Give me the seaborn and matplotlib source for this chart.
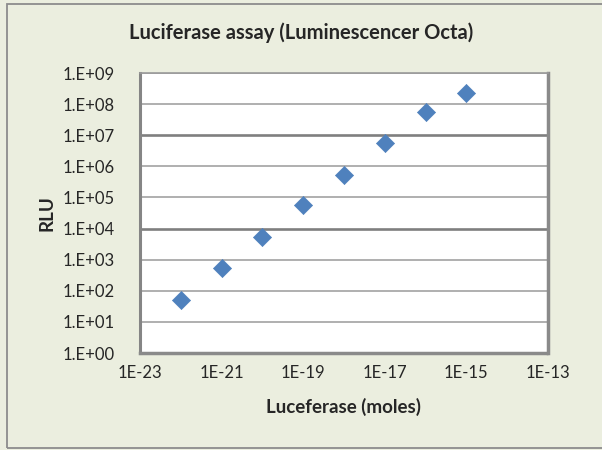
import math
import matplotlib
matplotlib.use("Agg")
import matplotlib.pyplot as plt
import matplotlib.ticker as mticker
from matplotlib.patches import Rectangle
import pandas as pd
import seaborn as sns

# Data
luciferase_moles = [1e-22, 1e-21, 1e-20, 1e-19, 1e-18, 1e-17, 1e-16, 1e-15]
rlu = [50, 550, 5500, 56000, 540000, 5.6e6, 5.5e7, 2.3e8]
df = pd.DataFrame({'moles': luciferase_moles, 'rlu': rlu})

sns.set_style("white")
plt.rcParams['font.family'] = ['Lato', 'DejaVu Sans']

bg = '#EBEEDF'
fig = plt.figure(figsize=(6.02, 4.5), dpi=100, facecolor=bg)
ax = fig.add_axes([140 / 602, 1 - 353 / 450, (548 - 140) / 602, (353 - 73) / 450])
ax.set_facecolor('white')

# outer chart frame
fig.patches.append(Rectangle((7 / 602, 2 / 450), 0.999, 444 / 450, transform=fig.transFigure,
                             fill=False, edgecolor='#8C8C8C', linewidth=1.3))

sns.scatterplot(data=df, x='moles', y='rlu', marker='D', s=85, color='#4F81BD',
                edgecolor='#4F81BD', linewidth=0.5, ax=ax, zorder=3)

ax.set_xscale('log')
ax.set_yscale('log')
ax.set_xlim(1e-23, 1e-13)
ax.set_ylim(1, 1e9)

ax.xaxis.set_major_locator(mticker.FixedLocator([10.0 ** e for e in range(-23, -12, 2)]))
ax.xaxis.set_minor_locator(mticker.NullLocator())
ax.xaxis.set_major_formatter(mticker.FuncFormatter(lambda v, p: '1E%d' % round(math.log10(v))))
ax.yaxis.set_major_locator(mticker.FixedLocator([10.0 ** e for e in range(0, 10)]))
ax.yaxis.set_minor_locator(mticker.NullLocator())
ax.yaxis.set_major_formatter(mticker.FuncFormatter(lambda v, p: '1.E+%02d' % round(math.log10(v))))

for e in range(1, 10):
    lw = 1.9 if e in (4, 7) else 1.1
    col = '#7F7F7F' if e in (4, 7) else '#9A9A9A'
    ax.axhline(10.0 ** e, color=col, linewidth=lw, zorder=1)

ax.tick_params(axis='x', direction='in', length=5, width=1, color='#9A9A9A', pad=9, labelsize=12)
ax.tick_params(axis='y', length=0, pad=18, labelsize=12)

ax.spines['left'].set_color('#858585')
ax.spines['left'].set_linewidth(2.2)
ax.spines['top'].set_color('#9A9A9A')
ax.spines['top'].set_linewidth(1.2)
for side in ('right', 'bottom'):
    ax.spines[side].set_color('#8A8A8A')
    ax.spines[side].set_linewidth(2.5)
    ax.spines[side].set_linestyle((0, (1, 1)))

fig.text(0.5, 1 - 33 / 450, 'Luciferase assay (Luminescencer Octa)', fontsize=14.5,
         fontweight='bold', ha='center', va='center')
ax.set_xlabel('Luceferase (moles)', fontsize=13.5, fontweight='bold', labelpad=12)
ax.set_ylabel('RLU', fontsize=13.5, fontweight='bold', labelpad=5)

fig.savefig('out.png', dpi=100, facecolor=bg)
